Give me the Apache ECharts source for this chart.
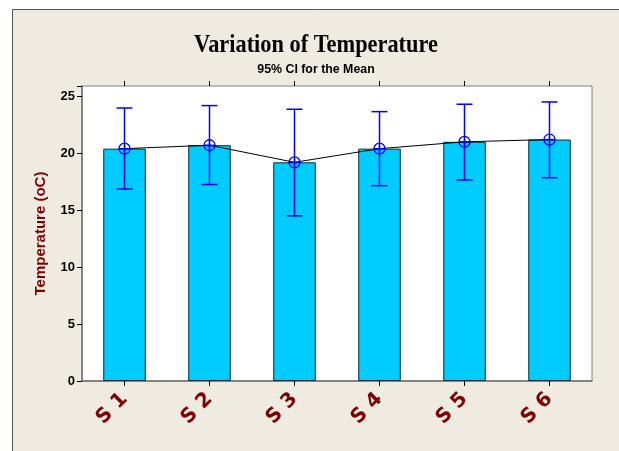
<!DOCTYPE html>
<html>
<head>
<meta charset="utf-8">
<script src="https://cdn.jsdelivr.net/npm/echarts@6/dist/echarts.min.js"></script>
<style>html,body{margin:0;padding:0;background:#fff;}#c{width:619px;height:451px;}</style>
</head>
<body>
<div id="c"></div>
<script>
var categories = ['S 1', 'S 2', 'S 3', 'S 4', 'S 5', 'S 6'];
var means = [20.4, 20.7, 19.2, 20.4, 21.0, 21.2];
var ciLower = [16.85, 17.25, 14.5, 17.15, 17.65, 17.85];
var ciUpper = [23.97, 24.18, 23.86, 23.65, 24.3, 24.5];
var yTicks = [0, 5, 10, 15, 20, 25];

var chart = echarts.init(document.getElementById('c'));
var blue = '#0000ff';
var darkRed = '#800000';

var errData = categories.map(function (c, i) { return [i, ciLower[i], ciUpper[i]]; });
var meanData = categories.map(function (c, i) { return [i, means[i]]; });

chart.setOption({
  backgroundColor: '#ffffff',
  animation: false,
  graphic: [
    { type: 'rect', z: -10, shape: { x: 12.5, y: 9.5, width: 620, height: 460 },
      style: { fill: '#efebe1', stroke: '#555', lineWidth: 1 } },
    { type: 'text', z: 10, x: 316, y: 45, scaleX: 0.86, originX: 0, originY: 0,
      style: { text: 'Variation of Temperature', font: 'bold 26px "Liberation Serif"', fill: '#000',
        align: 'center', verticalAlign: 'middle' } },
    { type: 'text', z: 10, x: 316, y: 69, scaleX: 0.95,
      style: { text: '95% CI for the Mean', font: 'bold 13px "Liberation Sans"', fill: '#000',
        align: 'center', verticalAlign: 'middle' } }
  ],
  grid: { left: 82, right: 27, top: 86, bottom: 70, show: true, backgroundColor: '#ffffff',
    borderColor: '#808080', borderWidth: 1 },
  xAxis: [
    { type: 'category', data: categories, position: 'bottom',
      axisLine: { show: true, lineStyle: { color: '#707070', width: 1.5 } },
      axisTick: { show: true, alignWithLabel: true, length: 5, lineStyle: { color: '#000' } },
      axisLabel: { rotate: 45, color: darkRed, fontFamily: 'DejaVu Sans', fontWeight: 'bold', fontSize: 20, margin: 15 } },
    { type: 'category', data: categories, position: 'top',
      axisLine: { show: false },
      axisTick: { show: true, alignWithLabel: true, length: 5, lineStyle: { color: '#000' } },
      axisLabel: { show: false } }
  ],
  yAxis: {
    type: 'value', min: 0, max: 25.9, interval: 5,
    name: 'Temperature (oC)', nameLocation: 'middle', nameGap: 34,
    nameTextStyle: { color: darkRed, fontFamily: 'Liberation Sans', fontWeight: 'bold', fontSize: 15 },
    axisLine: { show: true, lineStyle: { color: '#707070', width: 1.5 } },
    axisTick: { show: true, length: 5, lineStyle: { color: '#000' } },
    axisLabel: { color: '#000', fontFamily: 'Liberation Sans', fontWeight: 'bold', fontSize: 13, margin: 7,
      formatter: function (v) { return yTicks.indexOf(v) >= 0 ? String(v) : ''; } },
    splitLine: { show: false }
  },
  series: [
    { type: 'bar', data: means, barWidth: '50%', z: 2,
      itemStyle: { color: '#00ccff', borderColor: '#0a2a33', borderWidth: 1 } },
    { type: 'line', data: means, symbol: 'none', z: 3,
      lineStyle: { color: '#000', width: 1 } },
    { type: 'custom', data: errData, z: 4,
      renderItem: function (params, api) {
        var x = api.value(0);
        var lo = api.coord([x, api.value(1)]);
        var hi = api.coord([x, api.value(2)]);
        var hw = 8;
        var st = { stroke: blue, lineWidth: 1.5 };
        return { type: 'group', children: [
          { type: 'line', shape: { x1: lo[0], y1: lo[1], x2: hi[0], y2: hi[1] }, style: st },
          { type: 'line', shape: { x1: lo[0] - hw, y1: lo[1], x2: lo[0] + hw, y2: lo[1] }, style: st },
          { type: 'line', shape: { x1: hi[0] - hw, y1: hi[1], x2: hi[0] + hw, y2: hi[1] }, style: st }
        ] };
      } },
    { type: 'custom', data: meanData, z: 5,
      renderItem: function (params, api) {
        var p = api.coord([api.value(0), api.value(1)]);
        var r = 5.5;
        var st = { stroke: blue, lineWidth: 1.3, fill: null };
        return { type: 'group', children: [
          { type: 'circle', shape: { cx: p[0], cy: p[1], r: r }, style: { stroke: blue, lineWidth: 1.3, fill: 'rgba(0,0,0,0)' } },
          { type: 'line', shape: { x1: p[0] - r, y1: p[1], x2: p[0] + r, y2: p[1] }, style: st },
          { type: 'line', shape: { x1: p[0], y1: p[1] - r, x2: p[0], y2: p[1] + r }, style: st }
        ] };
      } }
  ]
});
</script>
</body>
</html>
